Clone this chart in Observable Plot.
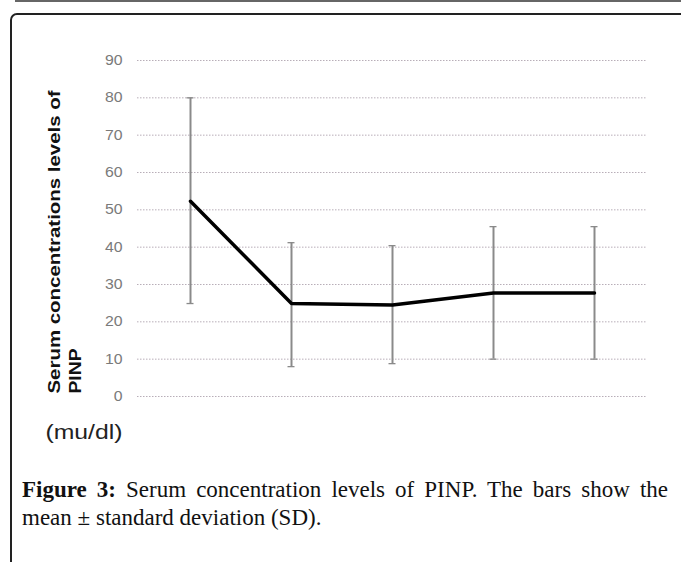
<!DOCTYPE html>
<html>
<head>
<meta charset="utf-8">
<script src="https://cdn.jsdelivr.net/npm/d3@7"></script>
<script src="https://cdn.jsdelivr.net/npm/@observablehq/plot@0.6"></script>
<style>
  html, body { margin: 0; padding: 0; background: #fff; overflow: hidden; }
  #page { position: relative; width: 681px; height: 562px; overflow: hidden; background: #fff; }
  #topline { position: absolute; left: 15px; top: 0; right: 0; border-top: 2px solid #666; }
  #box { position: absolute; left: 10px; top: 13px; width: 720px; height: 620px; border: 2px solid #222; border-top-left-radius: 7px; }
  #chart { position: absolute; left: 0; top: 0; }
  #caption { position: absolute; left: 22px; top: 476px; width: 646px; font: 23px/28px "Liberation Serif", "Times New Roman", serif; color: #111; }
  #caption .l1 { text-align: justify; text-align-last: justify; }
</style>
</head>
<body>
<div id="page">
  <div id="topline"></div>
  <div id="box"></div>
  <div id="chart"></div>
  <div id="caption">
    <div class="l1"><b>Figure 3:</b> Serum concentration levels of PINP. The bars show the</div>
    <div>mean ± standard deviation (SD).</div>
  </div>
</div>
<script>
// Data
const categories = ["T1", "T2", "T3", "T4", "T5"];
const means = [52.3, 24.9, 24.5, 27.7, 27.7];
const upper = [80.0, 41.2, 40.4, 45.5, 45.5];
const lower = [24.9, 8.0, 8.8, 10.0, 10.0];
const yTicks = [0, 10, 20, 30, 40, 50, 60, 70, 80, 90];
const yTitleLines = ["Serum concentrations levels of", "PINP"];
const unitLabel = "(mu/dl)";

const data = categories.map((c, i) => ({cat: c, mean: means[i], hi: upper[i], lo: lower[i]}));

const barColor = "#8a8a8a";

const chart = Plot.plot({
  width: 681,
  height: 450,
  marginLeft: 137,
  marginRight: 35,
  marginTop: 60,
  marginBottom: 54,
  style: {background: "none", fontFamily: "'Liberation Sans', Arial, sans-serif", overflow: "visible"},
  x: {type: "point", domain: categories, padding: 0.5, axis: null},
  y: {domain: [0, 90], axis: null},
  marks: [
    Plot.ruleY(yTicks, {stroke: "#b8aeb8", strokeWidth: 1, strokeDasharray: "1.5,1.5"}),
    Plot.text(yTicks, {y: d => d, text: d => String(d), frameAnchor: "left", dx: -15, textAnchor: "end", fill: "#7a7a7a", fontSize: 14}),
    Plot.ruleX(data, {x: "cat", y1: "lo", y2: "hi", stroke: barColor, strokeWidth: 2}),
    Plot.ruleY(data, {x1: "cat", x2: "cat", y: "hi", insetLeft: -3.5, insetRight: -3.5, stroke: barColor, strokeWidth: 1.3}),
    Plot.ruleY(data, {x1: "cat", x2: "cat", y: "lo", insetLeft: -3.5, insetRight: -3.5, stroke: barColor, strokeWidth: 1.3}),
    Plot.line(data, {x: "cat", y: "mean", stroke: "#000", strokeWidth: 3.5, strokeLinejoin: "miter"}),
    Plot.text([yTitleLines[0]], {text: d => d, frameAnchor: "bottom-left", dx: -78, dy: -3, rotate: -90, textAnchor: "start", lineAnchor: "bottom", fontSize: 16, fontWeight: "bold", fill: "#111"}),
    Plot.text([yTitleLines[1]], {text: d => d, frameAnchor: "bottom-left", dx: -57, dy: -3, rotate: -90, textAnchor: "start", lineAnchor: "bottom", fontSize: 16, fontWeight: "bold", fill: "#111"}),
    Plot.text([unitLabel], {text: d => d, frameAnchor: "bottom-left", dx: -92, dy: 42, textAnchor: "start", lineAnchor: "bottom", fontSize: 21, fill: "#222"})
  ]
});

document.getElementById("chart").appendChild(chart);

// stretch labels to match the reference's scaled raster text
const stretch = {};
stretch[yTitleLines[0]] = 303;
stretch[yTitleLines[1]] = 45;
stretch[unitLabel] = 77;
yTicks.forEach(v => { stretch[String(v)] = String(v).length * 8.8; });
d3.select(chart).selectAll("text").each(function () {
  const t = this.textContent;
  if (stretch[t]) {
    d3.select(this).attr("textLength", stretch[t]).attr("lengthAdjust", "spacingAndGlyphs");
  }
});
</script>
</body>
</html>
